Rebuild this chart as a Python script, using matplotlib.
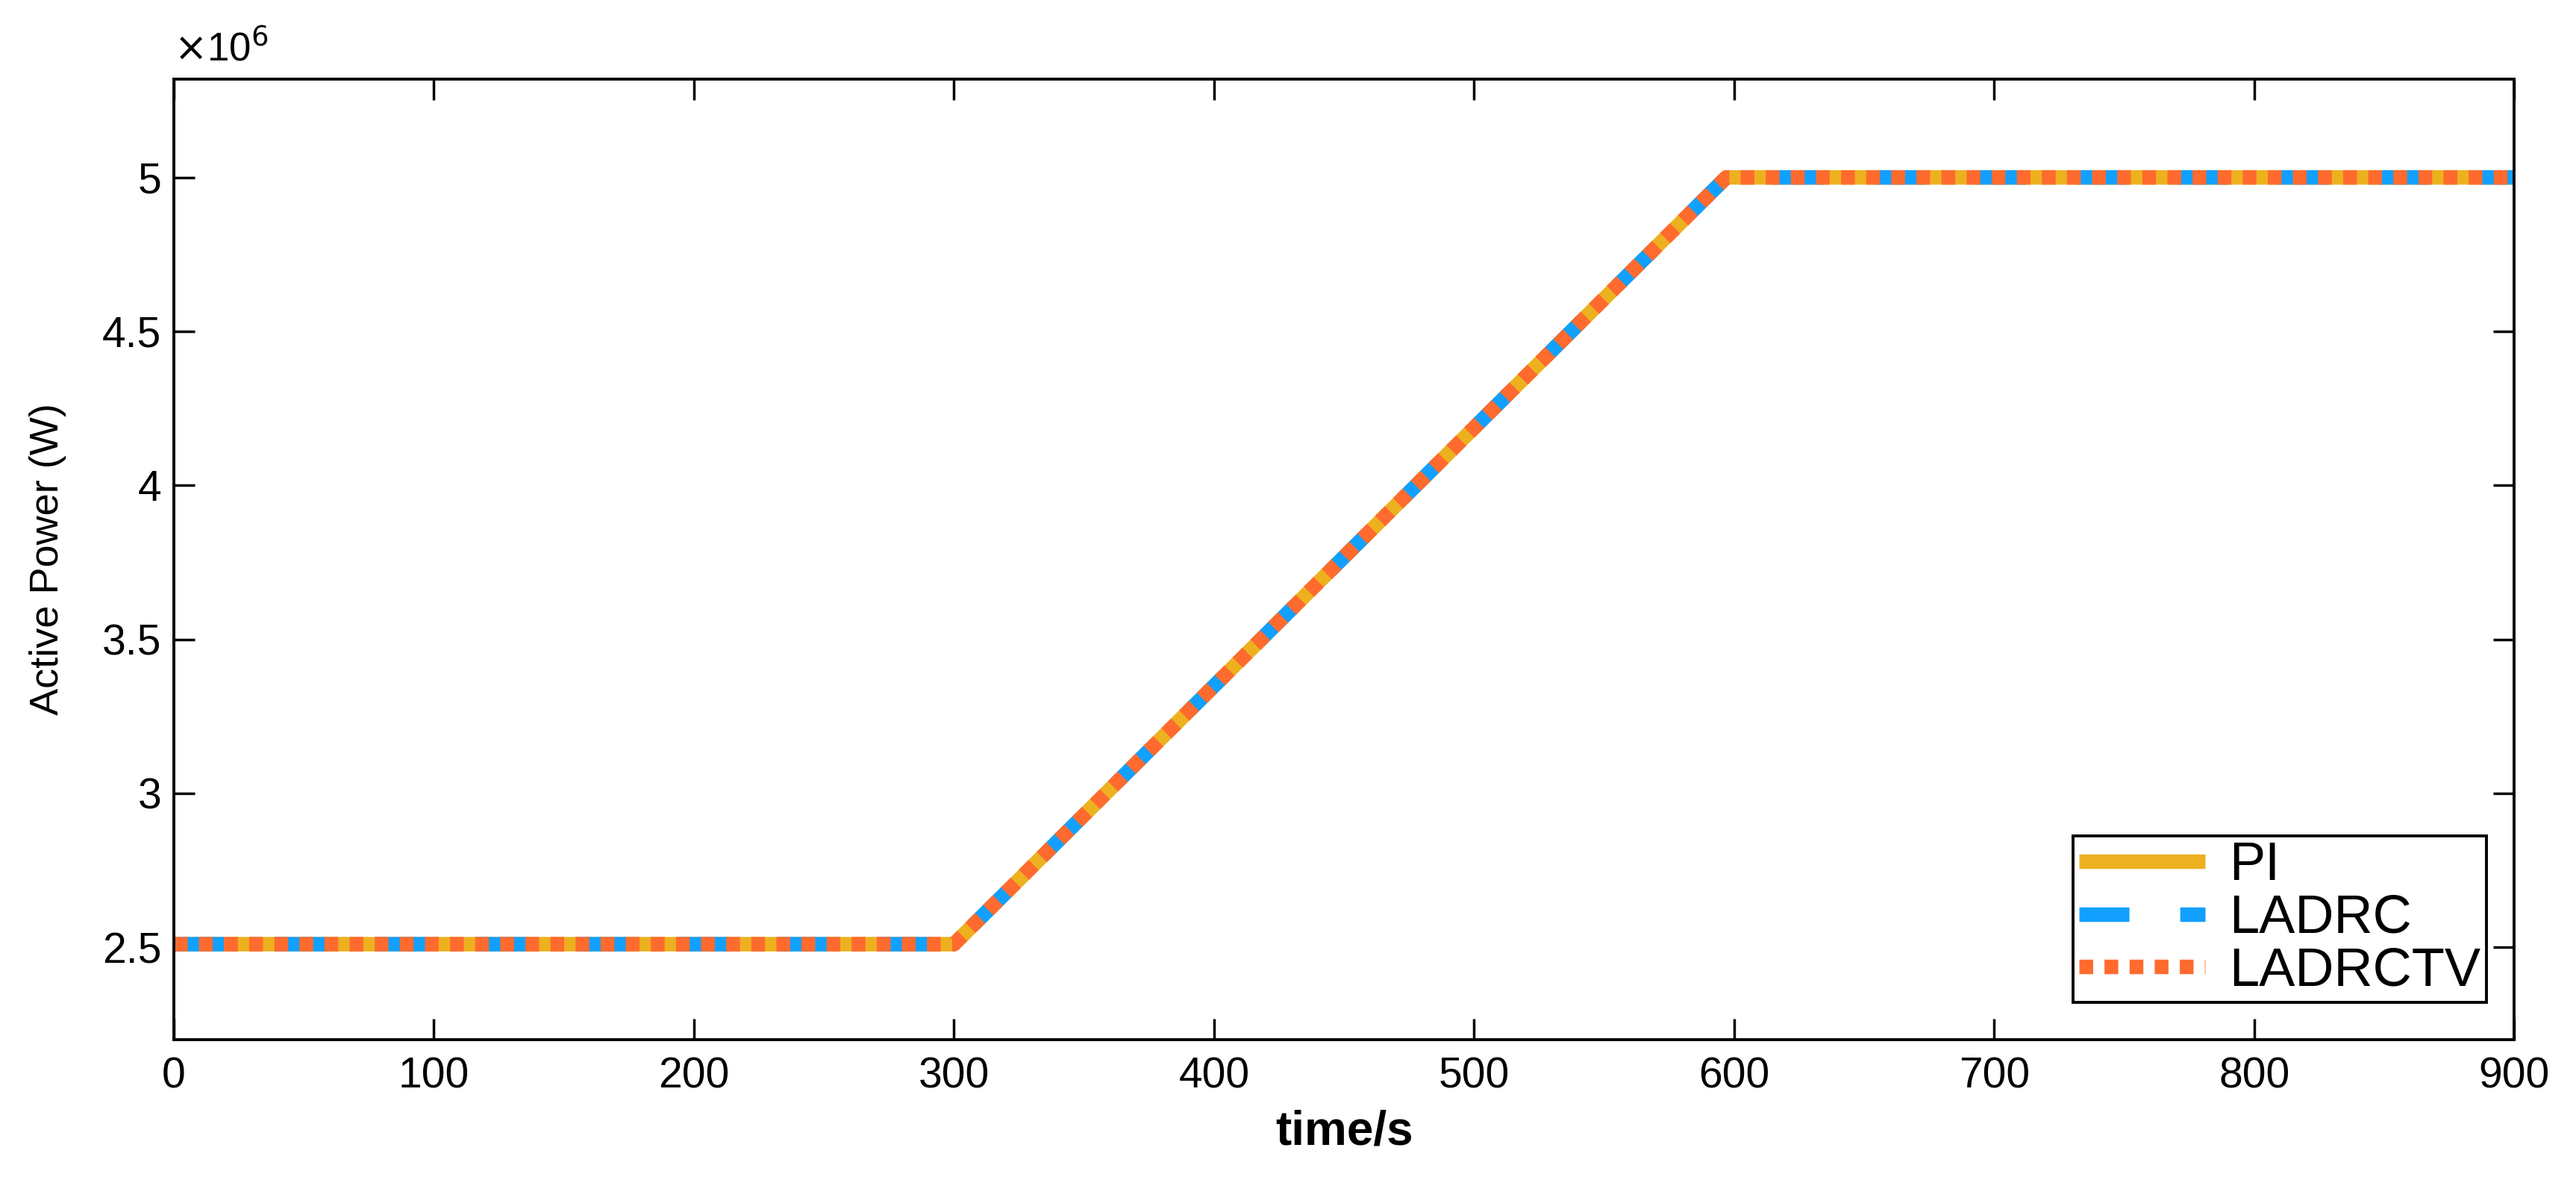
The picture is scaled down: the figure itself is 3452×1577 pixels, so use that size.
import matplotlib.pyplot as plt
from matplotlib.ticker import FuncFormatter

plt.rcParams['font.family'] = ['Liberation Sans', 'DejaVu Sans']

# breakpoints of the power reference (s) and the three controller responses (W)
t = [0, 300, 597, 900]
p_pi = [2.51e6, 2.51e6, 5.0e6, 5.0e6]
p_ladrc = [2.51e6, 2.51e6, 5.0e6, 5.0e6]
p_ladrctv = [2.51e6, 2.51e6, 5.0e6, 5.0e6]

x_ticks = [0, 100, 200, 300, 400, 500, 600, 700, 800, 900]
y_ticks = [2.5e6, 3e6, 3.5e6, 4e6, 4.5e6, 5e6]

fig = plt.figure(figsize=(34.52, 15.77), dpi=100)
ax = fig.add_axes([0.0675, 0.1167, 0.9085, 0.8163])

lw = 14
ax.plot(t, p_pi, color="#EDB120", lw=lw, label="PI", solid_capstyle="butt")
ax.plot(t, p_ladrc, color="#12A0FF", lw=lw, label="LADRC",
        dashes=(3.45, 3.5), dash_capstyle="butt")
ax.plot(t, p_ladrctv, color="#FF6B2E", lw=lw, label="LADRCTV",
        dashes=(0.95, 0.78), dash_capstyle="butt")

ax.set_xlim(0, 900)
ax.set_ylim(2.2e6, 5.32e6)
ax.set_xticks(x_ticks)
ax.set_yticks(y_ticks)
ax.yaxis.set_major_formatter(FuncFormatter(lambda v, p: "%g" % (v / 1e6)))

ax.tick_params(direction="in", length=20, width=2.5, labelsize=41,
               top=True, right=True)
ax.tick_params(axis="y", pad=12)
ax.tick_params(axis="x", pad=16)
for s in ax.spines.values():
    s.set_linewidth(2.8)

ax.text(0.0, 1.01, r"$\times$10$^6$", transform=ax.transAxes,
        fontsize=38, ha="left", va="bottom")

ax.set_xlabel("time/s", fontsize=46, fontweight="bold")
ax.xaxis.set_label_coords(0.5, -0.073)
ax.set_ylabel("Active Power (W)", fontsize=39)
ax.yaxis.set_label_coords(-0.046, 0.5)

leg = ax.legend(loc="lower right", bbox_to_anchor=(0.988, 0.039),
                borderaxespad=0, fontsize=52, handlelength=2.34,
                frameon=True, fancybox=False, edgecolor="black",
                framealpha=1, handletextpad=0.45, labelspacing=0.05,
                borderpad=0.1)
leg.get_frame().set_linewidth(2.8)

fig.savefig("out.png", dpi=100)
